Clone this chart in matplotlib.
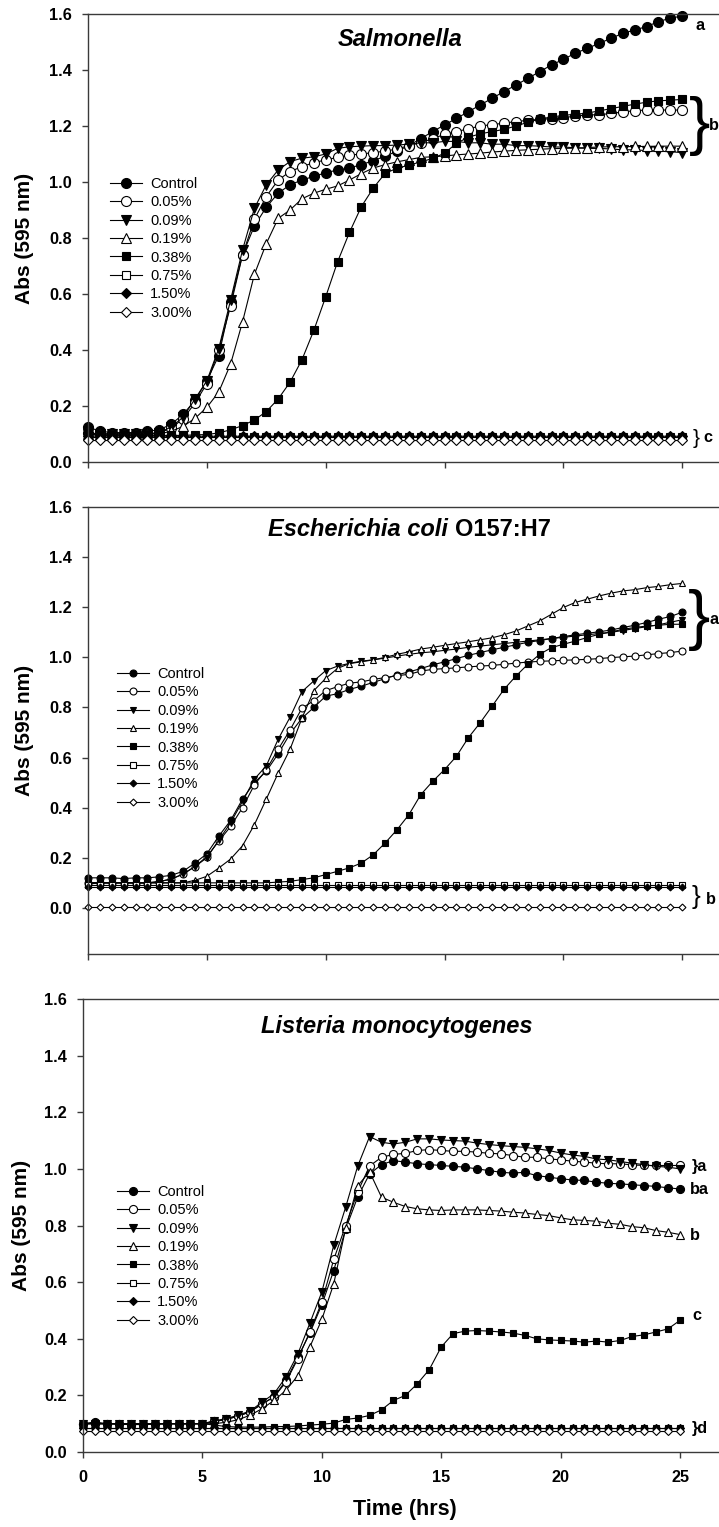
import matplotlib
matplotlib.use("Agg")
import matplotlib.pyplot as plt

plt.rcParams['font.family'] = ['Liberation Sans', 'DejaVu Sans']

# sampling times (h)
hours = [0.0, 0.5, 1.0, 1.5, 2.0, 2.5, 3.0, 3.5, 4.0, 4.5,
         5.0, 5.5, 6.0, 6.5, 7.0, 7.5, 8.0, 8.5, 9.0, 9.5,
         10.0, 10.5, 11.0, 11.5, 12.0, 12.5, 13.0, 13.5, 14.0, 14.5,
         15.0, 15.5, 16.0, 16.5, 17.0, 17.5, 18.0, 18.5, 19.0, 19.5,
         20.0, 20.5, 21.0, 21.5, 22.0, 22.5, 23.0, 23.5, 24.0, 24.5,
         25.0]

labels = ["Control", "0.05%", "0.09%", "0.19%", "0.38%", "0.75%", "1.50%", "3.00%"]

# ---- Salmonella ----
sal_control = [0.125, 0.110, 0.105, 0.105, 0.105, 0.110, 0.115, 0.135, 0.170, 0.220,
               0.290, 0.380, 0.570, 0.740, 0.843, 0.910, 0.960, 0.990, 1.007, 1.020,
               1.033, 1.043, 1.050, 1.062, 1.076, 1.092, 1.110, 1.130, 1.155, 1.180,
               1.204, 1.227, 1.251, 1.275, 1.299, 1.323, 1.346, 1.370, 1.394, 1.418,
               1.438, 1.460, 1.477, 1.495, 1.513, 1.531, 1.543, 1.555, 1.573, 1.585,
               1.593]
sal_005 = [0.105, 0.100, 0.100, 0.100, 0.100, 0.100, 0.105, 0.120, 0.155, 0.210,
           0.280, 0.400, 0.557, 0.739, 0.867, 0.948, 1.007, 1.037, 1.055, 1.069,
           1.079, 1.088, 1.096, 1.100, 1.105, 1.110, 1.118, 1.130, 1.140, 1.155,
           1.170, 1.180, 1.190, 1.200, 1.205, 1.210, 1.216, 1.220, 1.224, 1.226,
           1.230, 1.235, 1.240, 1.240, 1.245, 1.250, 1.255, 1.257, 1.257, 1.257,
           1.257]
sal_009 = [0.100, 0.100, 0.100, 0.100, 0.100, 0.100, 0.105, 0.125, 0.160, 0.225,
           0.290, 0.405, 0.579, 0.757, 0.906, 0.990, 1.043, 1.073, 1.085, 1.090,
           1.100, 1.120, 1.126, 1.128, 1.130, 1.130, 1.132, 1.135, 1.140, 1.140,
           1.145, 1.145, 1.140, 1.140, 1.135, 1.135, 1.130, 1.130, 1.128, 1.125,
           1.125, 1.122, 1.120, 1.120, 1.118, 1.115, 1.115, 1.112, 1.110, 1.108,
           1.105]
sal_019 = [0.100, 0.100, 0.100, 0.100, 0.100, 0.100, 0.100, 0.110, 0.127, 0.156,
           0.195, 0.250, 0.350, 0.500, 0.670, 0.780, 0.870, 0.900, 0.940, 0.960,
           0.974, 0.986, 1.007, 1.030, 1.050, 1.062, 1.072, 1.080, 1.088, 1.090,
           1.093, 1.097, 1.100, 1.103, 1.107, 1.110, 1.113, 1.115, 1.117, 1.119,
           1.120, 1.121, 1.123, 1.125, 1.126, 1.126, 1.127, 1.127, 1.128, 1.128,
           1.128]
sal_038 = [0.100, 0.095, 0.095, 0.095, 0.095, 0.095, 0.095, 0.095, 0.095, 0.097,
           0.098, 0.104, 0.115, 0.130, 0.150, 0.180, 0.225, 0.285, 0.365, 0.470,
           0.590, 0.715, 0.820, 0.912, 0.978, 1.031, 1.049, 1.060, 1.072, 1.084,
           1.103, 1.138, 1.160, 1.172, 1.180, 1.188, 1.200, 1.213, 1.225, 1.232,
           1.238, 1.242, 1.246, 1.254, 1.262, 1.270, 1.278, 1.285, 1.290, 1.292,
           1.295]
sal_075 = [0.090, 0.090, 0.090, 0.090, 0.090, 0.090, 0.090, 0.090, 0.090, 0.090,
           0.090, 0.090, 0.090, 0.090, 0.090, 0.090, 0.090, 0.090, 0.090, 0.090,
           0.090, 0.090, 0.090, 0.090, 0.090, 0.090, 0.090, 0.090, 0.090, 0.090,
           0.090, 0.090, 0.090, 0.090, 0.090, 0.090, 0.090, 0.090, 0.090, 0.090,
           0.090, 0.090, 0.090, 0.090, 0.090, 0.090, 0.090, 0.090, 0.090, 0.090,
           0.090]
sal_150 = [0.093, 0.092, 0.092, 0.092, 0.092, 0.092, 0.092, 0.092, 0.092, 0.092,
           0.092, 0.092, 0.092, 0.092, 0.092, 0.092, 0.092, 0.092, 0.092, 0.092,
           0.092, 0.092, 0.092, 0.092, 0.092, 0.092, 0.092, 0.092, 0.092, 0.092,
           0.092, 0.092, 0.092, 0.092, 0.092, 0.092, 0.092, 0.092, 0.092, 0.092,
           0.092, 0.092, 0.092, 0.092, 0.092, 0.092, 0.092, 0.092, 0.092, 0.092,
           0.092]
sal_300 = [0.080, 0.080, 0.080, 0.080, 0.080, 0.080, 0.080, 0.080, 0.080, 0.080,
           0.080, 0.080, 0.080, 0.080, 0.080, 0.080, 0.080, 0.080, 0.080, 0.080,
           0.080, 0.080, 0.080, 0.080, 0.080, 0.080, 0.080, 0.080, 0.080, 0.080,
           0.080, 0.080, 0.080, 0.080, 0.080, 0.080, 0.080, 0.080, 0.080, 0.080,
           0.080, 0.080, 0.080, 0.080, 0.080, 0.080, 0.080, 0.080, 0.080, 0.080,
           0.080]

# ---- E. coli O157:H7 ----
eco_control = [0.120, 0.120, 0.120, 0.117, 0.120, 0.120, 0.124, 0.130, 0.146, 0.179,
               0.216, 0.286, 0.349, 0.434, 0.500, 0.545, 0.615, 0.695, 0.757, 0.800,
               0.845, 0.855, 0.872, 0.885, 0.900, 0.915, 0.930, 0.942, 0.955, 0.970,
               0.982, 0.995, 1.008, 1.019, 1.030, 1.040, 1.050, 1.060, 1.067, 1.075,
               1.083, 1.090, 1.096, 1.102, 1.109, 1.119, 1.128, 1.139, 1.152, 1.163,
               1.180]
eco_005 = [0.100, 0.100, 0.100, 0.100, 0.100, 0.100, 0.105, 0.115, 0.135, 0.165,
           0.205, 0.266, 0.325, 0.400, 0.491, 0.551, 0.633, 0.710, 0.797, 0.827,
           0.867, 0.883, 0.897, 0.902, 0.912, 0.919, 0.927, 0.932, 0.945, 0.952,
           0.955, 0.958, 0.962, 0.965, 0.968, 0.972, 0.977, 0.981, 0.984, 0.986,
           0.988, 0.990, 0.992, 0.995, 0.999, 1.002, 1.005, 1.010, 1.015, 1.019,
           1.025]
eco_009 = [0.100, 0.100, 0.100, 0.100, 0.100, 0.100, 0.105, 0.115, 0.135, 0.165,
           0.200, 0.270, 0.340, 0.425, 0.514, 0.567, 0.673, 0.761, 0.863, 0.906,
           0.947, 0.965, 0.976, 0.985, 0.990, 0.997, 1.005, 1.012, 1.018, 1.022,
           1.028, 1.033, 1.040, 1.045, 1.050, 1.055, 1.060, 1.065, 1.070, 1.075,
           1.080, 1.085, 1.090, 1.095, 1.100, 1.107, 1.115, 1.122, 1.130, 1.140,
           1.150]
eco_019 = [0.100, 0.100, 0.100, 0.100, 0.100, 0.100, 0.100, 0.100, 0.100, 0.110,
           0.126, 0.159, 0.195, 0.248, 0.332, 0.434, 0.538, 0.633, 0.757, 0.867,
           0.916, 0.956, 0.975, 0.982, 0.990, 1.000, 1.012, 1.022, 1.033, 1.040,
           1.048, 1.055, 1.062, 1.070, 1.078, 1.090, 1.105, 1.125, 1.145, 1.172,
           1.199, 1.219, 1.232, 1.245, 1.256, 1.265, 1.270, 1.278, 1.283, 1.290,
           1.295]
eco_038 = [0.095, 0.100, 0.100, 0.100, 0.100, 0.100, 0.100, 0.100, 0.100, 0.100,
           0.100, 0.100, 0.100, 0.100, 0.100, 0.100, 0.103, 0.106, 0.113, 0.120,
           0.133, 0.146, 0.160, 0.179, 0.212, 0.259, 0.312, 0.372, 0.452, 0.505,
           0.552, 0.605, 0.679, 0.739, 0.805, 0.872, 0.925, 0.972, 1.012, 1.039,
           1.052, 1.065, 1.079, 1.092, 1.101, 1.112, 1.119, 1.125, 1.128, 1.132,
           1.132]
eco_075 = [0.092, 0.092, 0.092, 0.092, 0.092, 0.092, 0.092, 0.092, 0.092, 0.092,
           0.092, 0.092, 0.092, 0.092, 0.092, 0.092, 0.092, 0.092, 0.092, 0.092,
           0.092, 0.092, 0.092, 0.092, 0.092, 0.092, 0.092, 0.092, 0.092, 0.092,
           0.092, 0.092, 0.092, 0.092, 0.092, 0.092, 0.092, 0.092, 0.092, 0.092,
           0.092, 0.092, 0.092, 0.092, 0.092, 0.092, 0.092, 0.092, 0.092, 0.092,
           0.092]
eco_150 = [0.082, 0.082, 0.082, 0.082, 0.082, 0.082, 0.082, 0.082, 0.082, 0.082,
           0.082, 0.082, 0.082, 0.082, 0.082, 0.082, 0.082, 0.082, 0.082, 0.082,
           0.082, 0.082, 0.082, 0.082, 0.082, 0.082, 0.082, 0.082, 0.082, 0.082,
           0.082, 0.082, 0.082, 0.082, 0.082, 0.082, 0.082, 0.082, 0.082, 0.082,
           0.082, 0.082, 0.082, 0.082, 0.082, 0.082, 0.082, 0.082, 0.082, 0.082,
           0.082]
eco_300 = [0.003, 0.003, 0.003, 0.003, 0.003, 0.003, 0.003, 0.003, 0.003, 0.003,
           0.003, 0.003, 0.003, 0.003, 0.003, 0.003, 0.003, 0.003, 0.003, 0.003,
           0.003, 0.003, 0.003, 0.003, 0.003, 0.003, 0.003, 0.003, 0.003, 0.003,
           0.003, 0.003, 0.003, 0.003, 0.003, 0.003, 0.003, 0.003, 0.003, 0.003,
           0.003, 0.003, 0.003, 0.003, 0.003, 0.003, 0.003, 0.003, 0.003, 0.003,
           0.003]

# ---- Listeria monocytogenes ----
lis_control = [0.100, 0.106, 0.100, 0.098, 0.097, 0.097, 0.098, 0.100, 0.100, 0.100,
               0.100, 0.108, 0.115, 0.127, 0.142, 0.170, 0.195, 0.253, 0.335, 0.420,
               0.520, 0.641, 0.788, 0.900, 0.982, 1.015, 1.029, 1.024, 1.018, 1.015,
               1.012, 1.009, 1.006, 1.000, 0.994, 0.988, 0.985, 0.988, 0.976, 0.971,
               0.965, 0.961, 0.959, 0.953, 0.949, 0.947, 0.944, 0.941, 0.938, 0.933,
               0.929]
lis_005 = [0.100, 0.100, 0.100, 0.100, 0.100, 0.100, 0.100, 0.100, 0.100, 0.100,
           0.100, 0.108, 0.115, 0.127, 0.142, 0.170, 0.194, 0.247, 0.330, 0.424,
           0.530, 0.680, 0.800, 0.918, 1.010, 1.041, 1.051, 1.055, 1.065, 1.068,
           1.065, 1.062, 1.062, 1.059, 1.055, 1.053, 1.047, 1.041, 1.041, 1.035,
           1.032, 1.027, 1.024, 1.020, 1.018, 1.018, 1.014, 1.012, 1.012, 1.012,
           1.012]
lis_009 = [0.100, 0.100, 0.100, 0.100, 0.100, 0.100, 0.100, 0.100, 0.100, 0.100,
           0.100, 0.110, 0.118, 0.130, 0.145, 0.176, 0.206, 0.265, 0.347, 0.455,
           0.565, 0.730, 0.865, 1.009, 1.114, 1.094, 1.088, 1.094, 1.106, 1.106,
           1.102, 1.100, 1.098, 1.091, 1.086, 1.082, 1.079, 1.076, 1.071, 1.065,
           1.056, 1.049, 1.044, 1.035, 1.032, 1.026, 1.020, 1.015, 1.009, 1.006,
           1.000]
lis_019 = [0.100, 0.100, 0.100, 0.100, 0.100, 0.100, 0.100, 0.100, 0.100, 0.100,
           0.100, 0.100, 0.105, 0.114, 0.130, 0.153, 0.182, 0.218, 0.270, 0.371,
           0.468, 0.594, 0.790, 0.940, 0.990, 0.900, 0.882, 0.867, 0.859, 0.855,
           0.853, 0.855, 0.855, 0.855, 0.853, 0.851, 0.847, 0.844, 0.839, 0.835,
           0.827, 0.820, 0.818, 0.815, 0.808, 0.804, 0.796, 0.792, 0.782, 0.776,
           0.768]
lis_038 = [0.100, 0.100, 0.100, 0.100, 0.100, 0.100, 0.100, 0.100, 0.100, 0.100,
           0.100, 0.095, 0.090, 0.088, 0.088, 0.088, 0.090, 0.090, 0.092, 0.095,
           0.098, 0.102, 0.115, 0.120, 0.129, 0.149, 0.182, 0.200, 0.241, 0.291,
           0.371, 0.418, 0.427, 0.429, 0.427, 0.424, 0.420, 0.412, 0.400, 0.396,
           0.394, 0.392, 0.388, 0.392, 0.388, 0.394, 0.408, 0.414, 0.424, 0.435,
           0.465]
lis_075 = [0.086, 0.086, 0.086, 0.086, 0.086, 0.086, 0.086, 0.086, 0.086, 0.086,
           0.086, 0.086, 0.086, 0.086, 0.086, 0.086, 0.086, 0.086, 0.086, 0.086,
           0.086, 0.086, 0.086, 0.086, 0.086, 0.086, 0.086, 0.086, 0.086, 0.086,
           0.086, 0.086, 0.086, 0.086, 0.086, 0.086, 0.086, 0.086, 0.086, 0.086,
           0.086, 0.086, 0.086, 0.086, 0.086, 0.086, 0.086, 0.086, 0.086, 0.086,
           0.086]
lis_150 = [0.085, 0.085, 0.085, 0.085, 0.085, 0.085, 0.085, 0.085, 0.085, 0.085,
           0.085, 0.085, 0.085, 0.085, 0.085, 0.085, 0.085, 0.085, 0.085, 0.085,
           0.085, 0.085, 0.085, 0.085, 0.085, 0.085, 0.085, 0.085, 0.085, 0.085,
           0.085, 0.085, 0.085, 0.085, 0.085, 0.085, 0.085, 0.085, 0.085, 0.085,
           0.085, 0.085, 0.085, 0.085, 0.085, 0.085, 0.085, 0.085, 0.085, 0.085,
           0.085]
lis_300 = [0.075, 0.075, 0.075, 0.075, 0.075, 0.075, 0.075, 0.075, 0.075, 0.075,
           0.075, 0.075, 0.075, 0.075, 0.075, 0.075, 0.075, 0.075, 0.075, 0.075,
           0.075, 0.075, 0.075, 0.075, 0.075, 0.075, 0.075, 0.075, 0.075, 0.075,
           0.075, 0.075, 0.075, 0.075, 0.075, 0.075, 0.075, 0.075, 0.075, 0.075,
           0.075, 0.075, 0.075, 0.075, 0.075, 0.075, 0.075, 0.075, 0.075, 0.075,
           0.075]

salmonella = [sal_control, sal_005, sal_009, sal_019, sal_038, sal_075, sal_150, sal_300]
ecoli = [eco_control, eco_005, eco_009, eco_019, eco_038, eco_075, eco_150, eco_300]
listeria = [lis_control, lis_005, lis_009, lis_019, lis_038, lis_075, lis_150, lis_300]

# marker, face colour, size factor
styles = [("o", "black", 1.0), ("o", "white", 1.0), ("v", "black", 1.0), ("^", "white", 1.0),
          ("s", "black", 0.85), ("s", "white", 0.85), ("D", "black", 0.7), ("D", "white", 0.7)]

W, H = 719, 1527
fig = plt.figure(figsize=(W / 100, H / 100), dpi=100)
AXC = "#3a3a3a"


def px_axes(left, top, bottom, width):
    return fig.add_axes([left / W, 1 - bottom / H, width / W, (bottom - top) / H])


def ftext(x, y, s, **kw):
    fig.text(x / W, 1 - y / H, s, **kw)


def draw_panel(ax, data, ms, ylim, leg_xy, xlabels):
    lines = []
    for vals, (mk, fc, f) in zip(data, styles):
        ln, = ax.plot(hours, vals, color="black", lw=0.8, marker=mk, ms=ms * f,
                      mfc=fc, mec="black", mew=0.8, clip_on=False)
        lines.append(ln)
    ax.set_xlim(0, 28)
    ax.set_ylim(*ylim)
    ax.spines["right"].set_visible(False)
    for sp in ("left", "top", "bottom"):
        ax.spines[sp].set_color(AXC)
        ax.spines[sp].set_linewidth(1.0)
    ax.set_xticks([0, 5, 10, 15, 20, 25])
    yt = [0.0, 0.2, 0.4, 0.6, 0.8, 1.0, 1.2, 1.4, 1.6]
    ax.set_yticks(yt)
    ax.set_yticklabels([f"{v:.1f}" for v in yt], fontweight="bold", fontsize=11.7)
    if xlabels:
        ax.set_xticklabels(["0", "5", "10", "15", "20", "25"], fontweight="bold", fontsize=11.7)
    else:
        ax.set_xticklabels([])
    ax.tick_params(axis="y", direction="out", length=4.5, width=1, color=AXC, pad=7)
    ax.tick_params(axis="x", direction="out", length=4.5, width=1, color=AXC, pad=8.5)
    ax.legend(lines, labels, loc="upper left",
              bbox_to_anchor=(leg_xy[0] / W, 1 - leg_xy[1] / H),
              bbox_transform=fig.transFigure, frameon=False, borderpad=0,
              borderaxespad=0, handlelength=2.2, handletextpad=0.55,
              labelspacing=0.30, fontsize=10.5)


ax1 = px_axes(88, 14, 462, 28 * 23.77)
ax2 = px_axes(88, 507, 954, 28 * 23.77)
ax3 = px_axes(83, 999, 1452, 28 * 23.88)

draw_panel(ax1, salmonella, 7.2, (0, 1.6), (110, 177), False)
draw_panel(ax2, ecoli, 5.0, (-0.184, 1.6), (117, 667), False)
draw_panel(ax3, listeria, 5.8, (0, 1.6), (117, 1185), True)

# titles
ftext(400, 39, "Salmonella", fontsize=17, fontweight="bold", style="italic", ha="center", va="center")
ftext(448, 530, "Escherichia coli", fontsize=17, fontweight="bold", style="italic", ha="right", va="center")
ftext(455, 530, "O157:H7", fontsize=17, fontweight="bold", ha="left", va="center")
ftext(397, 1027, "Listeria monocytogenes", fontsize=17, fontweight="bold", style="italic", ha="center", va="center")

# axis labels
for yc, xc in ((238, 25), (730, 25), (1225, 22)):
    ftext(xc, yc, "Abs (595 nm)", fontsize=15, fontweight="bold", rotation=90, ha="center", va="center")
ftext(405, 1510, "Time (hrs)", fontsize=15.5, fontweight="bold", ha="center", va="center")

# significance letters
bold = dict(fontweight="bold", fontsize=11.7, va="center")
ftext(696, 25, "a", ha="left", **bold)
ftext(700, 126, "}", fontsize=46, ha="center", va="center")
ftext(709, 126, "b", ha="left", **bold)
ftext(696, 438, "}", fontsize=15, ha="center", va="center")
ftext(703, 438, "c", ha="left", **bold)

ftext(699, 620, "}", fontsize=48, ha="center", va="center")
ftext(709, 620, "a", ha="left", **bold)
ftext(696, 897, "}", fontsize=19, ha="center", va="center")
ftext(706, 900, "b", ha="left", **bold)

ftext(692, 1167, "}a", ha="left", **bold)
ftext(690, 1190, "ba", ha="left", **bold)
ftext(690, 1235, "b", ha="left", **bold)
ftext(692, 1315, "c", ha="left", **bold)
ftext(692, 1428, "}d", ha="left", **bold)

fig.savefig("out.png", dpi=100)
